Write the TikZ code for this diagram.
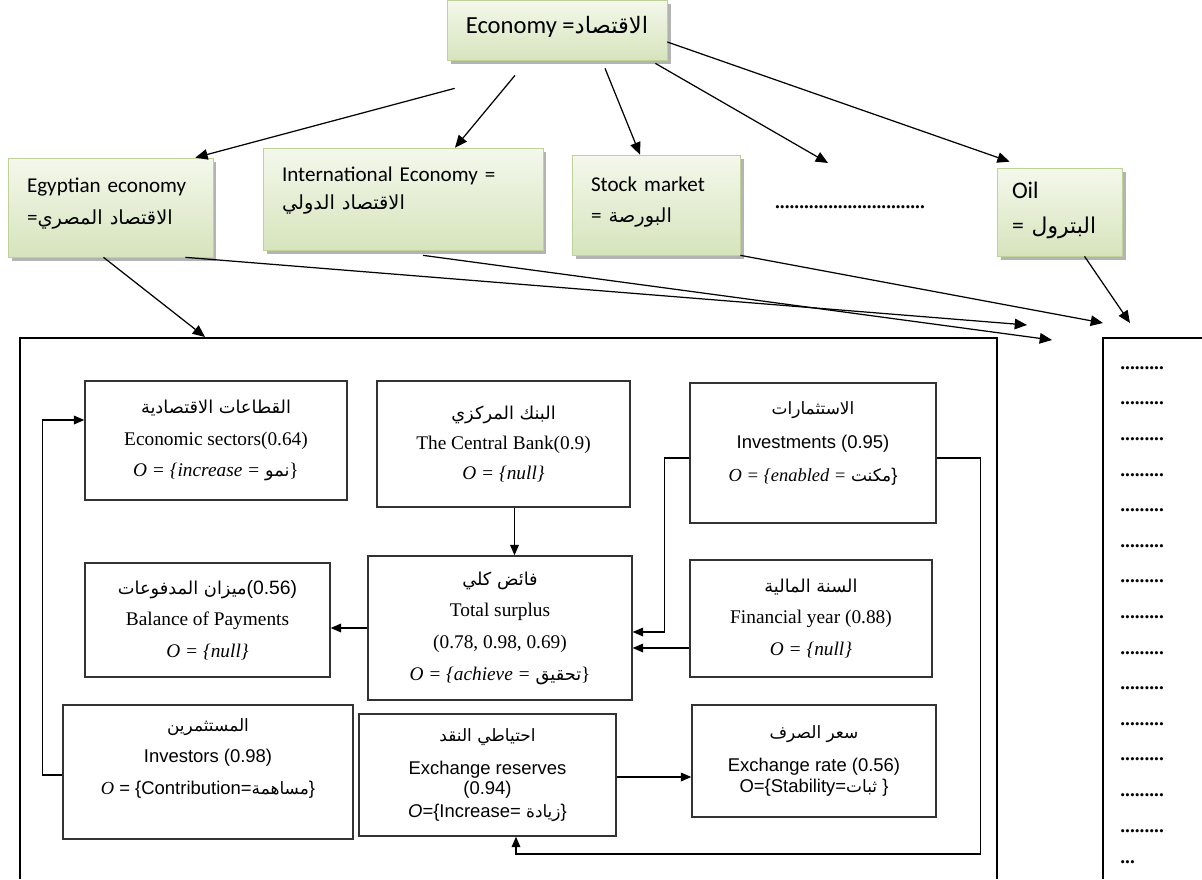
\documentclass[tikz,border=0pt]{standalone}
\usepackage{fontspec}
\setmainfont{Liberation Serif}
\newfontfamily\calfont{Carlito}
\newfontfamily\arialfont{Liberation Sans}
\newfontfamily\arabicfont[Script=Arabic,Scale=0.92]{DejaVu Sans}
\TeXXeTstate=1
\newcommand{\artxt}[1]{{\arabicfont\beginR #1\endR}}
\usepackage{xcolor}
\usetikzlibrary{arrows.meta,positioning,calc,shadows}
\definecolor{lvtop}{HTML}{F4F8EC}
\definecolor{lvbot}{HTML}{D6E4BC}
\definecolor{lvline}{HTML}{BDD199}
\tikzset{
  lvbox/.style={draw=lvline, top color=lvtop, bottom color=lvbot, align=left, inner xsep=0.38cm, inner ysep=0pt, font=\calfont\fontsize{12}{18}\selectfont, drop shadow={shadow xshift=2pt, shadow yshift=-2pt, fill=black!50, opacity=0.6}},
  ibox/.style={draw=black!80, line width=0.8pt, align=center, inner sep=0pt, font=\fontsize{11}{18}\selectfont},
  iboxsans/.style={ibox, font=\arialfont\fontsize{10.5}{18}\selectfont},
  darrow/.style={-{Triangle[length=7pt,width=6pt]}, line width=0.7pt},
  iarrow/.style={-{Triangle[length=6pt,width=5pt]}, line width=0.7pt},
  dotcol/.style={font=\bfseries\fontsize{11}{13}\selectfont, inner sep=0pt}
}

\begin{document}
\begin{tikzpicture}[x=0.02cm,y=-0.02cm]
\useasboundingbox (0,0) rectangle (1202,879);

% top levels
\node[lvbox, align=center, inner xsep=0pt, minimum width=4.4cm, minimum height=1.2cm, font=\calfont\fontsize{14}{16}\selectfont] (eco) at (557,30) {Economy =\artxt{الاقتصاد}\\[-10.4pt]\mbox{}};
\node[lvbox, text width=3.34cm, minimum height=1.98cm] (egy) at (110.5,207.5) {Egyptian economy\\ =\artxt{الاقتصاد المصري}\\[-11pt]\mbox{}};
\node[lvbox, text width=4.84cm, minimum height=2.04cm, font=\calfont\fontsize{12}{16}\selectfont] (intl) at (403,199) {International Economy =\\ \artxt{الاقتصاد الدولي}\\[-3.5pt]\mbox{}};
\node[lvbox, text width=2.6cm, minimum height=2.0cm] (stock) at (656,205) {Stock market\\ = \artxt{البورصة}\\[-12pt]\mbox{}};
\node[lvbox, inner xsep=0.3cm, text width=1.9cm, minimum height=1.76cm, font=\calfont\fontsize{13.5}{20}\selectfont] (oil) at (1059.5,212) {Oil\\ = \artxt{البترول}\\[-15.5pt]\mbox{}};
\node[dotcol] (more) at (850,207) {...............................};
\coordinate (moretip) at (828,163);

\draw[darrow] ($(eco.south west)+(8,28)$) -- ($(egy.north east)+(-18,0)$);
\draw[darrow] ($(eco.south)+(-42,15)$) -- ($(intl.north)+(52,0)$);
\draw[darrow] ($(eco.south)+(48,8)$) -- ($(stock.north)+(-16,0)$);
\draw[darrow] ($(eco.south east)+(-12,3)$) -- (moretip);
\draw[darrow] ($(eco.east)+(0,12)$) -- ($(oil.north west)+(13,-6)$);

% containers
\draw[line width=0.8pt] (20,879) -- (20,338) -- (997,338) -- (997,879);
\draw[line width=0.8pt] (1103,879) -- (1103,338) -- (1202,338);
\foreach \i in {0,...,13}
  \node[dotcol, anchor=west] (rd\i) at (1120,{368+35.6*\i}) {.........};
\node[dotcol, anchor=west] (rdend) at (1120,862) {...};

\coordinate (t1) at (205,337);
\coordinate (t2) at (1027,325);
\coordinate (t3) at (1052,340);
\coordinate (t4) at (1103,323);
\coordinate (t5) at (1130,323);
\draw[darrow] ($(egy.south)+(-7,0)$) -- (t1);
\draw[darrow] ($(egy.south east)+(-28,0)$) -- (t2);
\draw[darrow] ($(intl.south)+(20,5)$) -- (t3);
\draw[darrow] (stock.south east) -- (t4);
\draw[darrow] ($(oil.south)+(25,0)$) -- (t5);

% inner boxes
\node[ibox, minimum width=5.24cm, minimum height=2.38cm] (sectors) at (216,440.5) {\artxt{القطاعات الاقتصادية}\\ Economic sectors(0.64)\\ \textit{O = \{increase = }\artxt{نمو}\}};
\node[ibox, minimum width=5.06cm, minimum height=2.52cm, font=\fontsize{11}{17}\selectfont] (bank) at (503.5,444) {\artxt{البنك المركزي}\\ The Central Bank(0.9)\\ \textit{O = \{null\}}};
\node[iboxsans, minimum width=4.92cm, minimum height=2.8cm, font=\arialfont\fontsize{10.5}{19}\selectfont] (invest) at (813,453) {\artxt{الاستثمارات}\\ Investments (0.95)\\ {\rmfamily\itshape O = \{enabled = }\artxt{مكنت}\}\\[-6pt]\mbox{}};
\node[ibox, minimum width=4.9cm, minimum height=2.28cm] (balance) at (207.5,620) {\artxt{ميزان المدفوعات}{\arialfont(0.56)}\\ Balance of Payments\\ \textit{O = \{null\}}};
\node[ibox, minimum width=5.28cm, minimum height=2.88cm] (surplus) at (500,628) {\artxt{فائض كلي}\\ Total surplus\\ (0.78, 0.98, 0.69)\\ \textit{O = \{achieve = }\artxt{تحقيق}\}};
\node[ibox, minimum width=4.84cm, minimum height=2.34cm] (fyear) at (811,618.5) {\artxt{السنة المالية}\\ Financial year (0.88)\\ \textit{O = \{null\}}};
\node[iboxsans, minimum width=5.8cm, minimum height=2.68cm] (investors) at (208,772) {\artxt{المستثمرين}\\ Investors (0.98)\\ {\rmfamily\itshape O} = \{Contribution=\artxt{مساهمة}\}\\ \mbox{}};
\node[iboxsans, minimum width=5.14cm, minimum height=2.44cm, font=\arialfont\fontsize{10.5}{11}\selectfont] (reserves) at (487.5,775) {\artxt{احتياطي النقد}\\[8pt] Exchange reserves\\ (0.94)\\[2pt] \textit{O}=\{Increase= \artxt{زيادة}\}};
\node[iboxsans, minimum width=4.88cm, minimum height=2.24cm, font=\arialfont\fontsize{10.5}{12}\selectfont] (rate) at (814,761) {\artxt{سعر الصرف}\\[7pt] Exchange rate (0.56)\\ O=\{Stability=\artxt{ثبات} \}};

% inner connectors
\draw[iarrow] ([xshift=0.22cm]bank.south) -- ([xshift=0.22cm]bank.south |- surplus.north);
\draw[iarrow] (surplus.west) -- (surplus.west -| balance.east);
\draw[iarrow] ([yshift=-0.1cm]invest.west) -- ++(-25,0) |- ([yshift=-0.08cm]surplus.east);
\draw[iarrow] ([yshift=-0.59cm]fyear.west) -- ([yshift=-0.59cm]fyear.west -| surplus.east);
\draw[iarrow] ([yshift=-0.1cm]invest.east) -- ++(44,0) -- ++(0,396) -| ([xshift=0.57cm]reserves.south);
\draw[iarrow] ([yshift=-0.06cm]investors.west) -- ++(-20,0) |- ([yshift=0.41cm]sectors.west);
\draw[iarrow] ([yshift=-0.04cm]reserves.east) -- ([yshift=-0.04cm]reserves.east -| rate.west);
\end{tikzpicture}
\end{document}
